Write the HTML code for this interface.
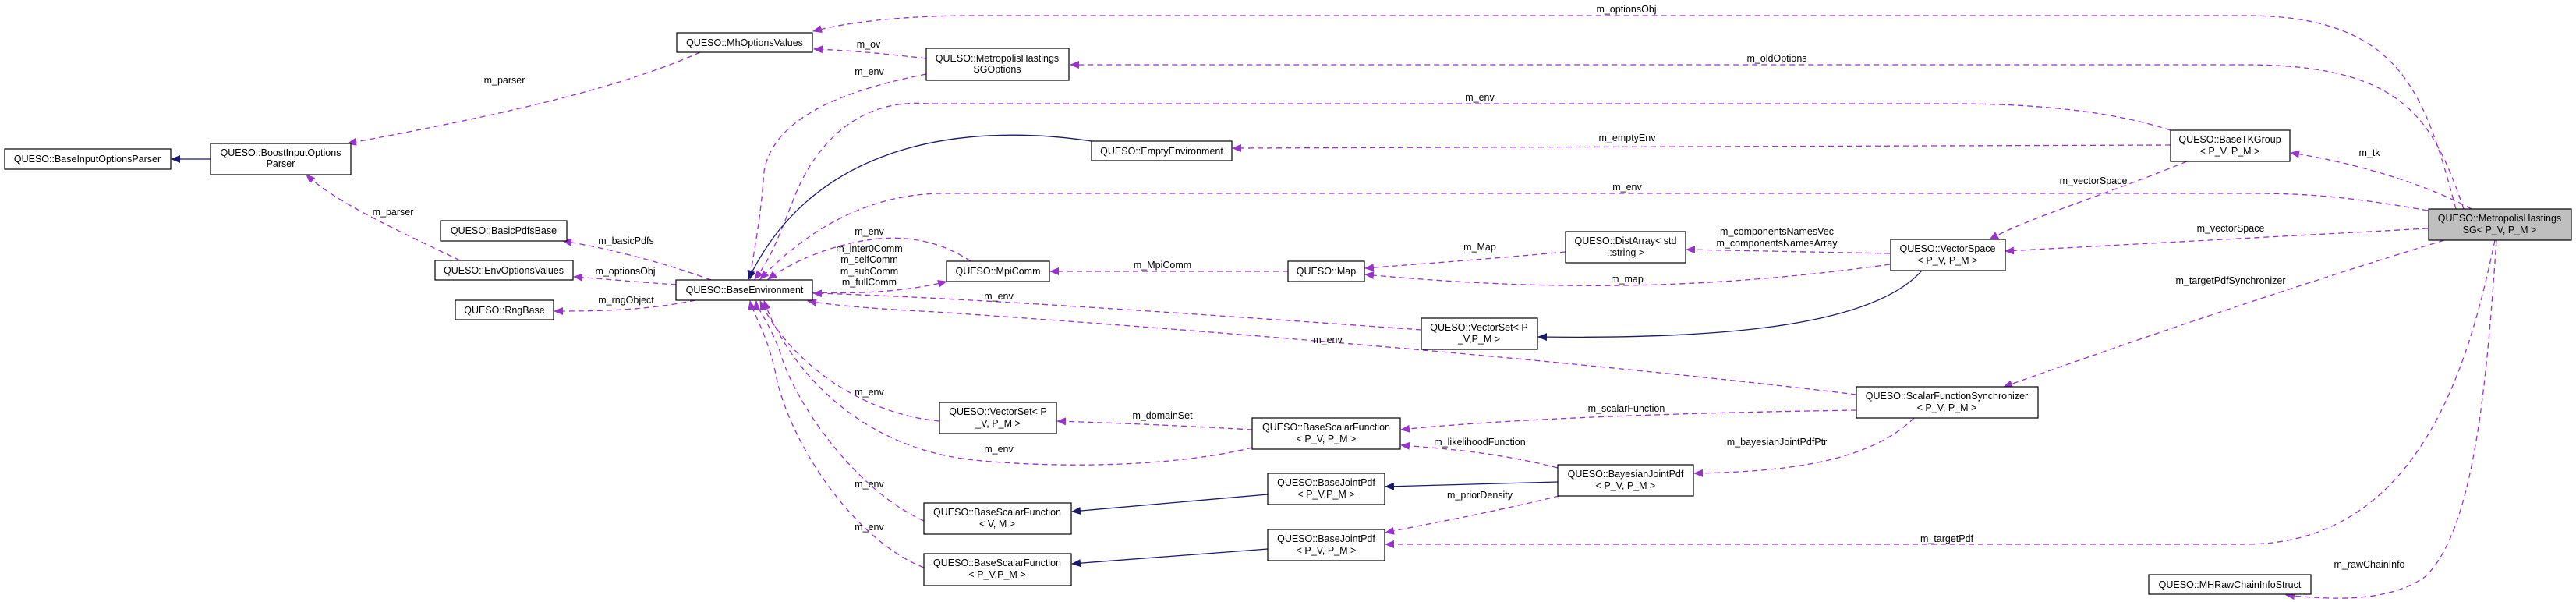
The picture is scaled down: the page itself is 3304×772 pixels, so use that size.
<!DOCTYPE html>
<html><head><meta charset="utf-8"><style>
html,body{margin:0;padding:0;background:#fff;}
svg{display:block;}
text{font-family:"Liberation Sans",sans-serif;font-size:12.5px;fill:#000;}
.n{fill:#fff;stroke:#000;stroke-width:1.2;}
.e{fill:none;stroke:#9a32cd;stroke-width:1.3;stroke-dasharray:7,5;}
.i{fill:none;stroke:#191970;stroke-width:1.3;}
</style></head><body>
<svg width="3304" height="772" viewBox="0 0 3304 772" xmlns="http://www.w3.org/2000/svg">
<defs>
<marker id="p" markerUnits="userSpaceOnUse" markerWidth="12" markerHeight="10" refX="11" refY="5" orient="auto"><path d="M0,0 L12,5 L0,10 Z" fill="#9a32cd"/></marker>
<marker id="b" markerUnits="userSpaceOnUse" markerWidth="12" markerHeight="10" refX="11" refY="5" orient="auto"><path d="M0,0 L12,5 L0,10 Z" fill="#191970"/></marker>
</defs>

<!-- edges -->
<g class="e">
<path marker-end="url(#p)" d="M3150,268 C3110,120 3080,20 2880,20 L1250,20 C1150,20 1080,30 1043,40"/>
<path marker-end="url(#p)" d="M3160,268 C3120,150 3080,83 2880,83 L1373,83"/>
<path marker-end="url(#p)" d="M1188,75 C1130,68 1080,64 1044,63"/>
<path marker-end="url(#p)" d="M1188,95 C1060,120 990,160 980,220 C975,290 965,330 962,358"/>
<path marker-end="url(#p)" d="M2784,167 C2700,140 2600,133 2500,133 L1190,133 C1090,125 1040,200 1020,250 C1000,300 990,330 968,358"/>
<path marker-end="url(#p)" d="M2784,186 L1581,190"/>
<path marker-end="url(#p)" d="M3114,270 C3000,250 2950,248 2880,248 L1210,248 C1100,248 1020,310 975,358"/>
<path marker-end="url(#p)" d="M3170,268 C3100,230 3000,205 2938,196"/>
<path marker-end="url(#p)" d="M2805,207 C2700,250 2600,280 2552,307"/>
<path marker-end="url(#p)" d="M3114,293 L2572,322"/>
<path marker-end="url(#p)" d="M2424,325 L2163,320"/>
<path marker-end="url(#p)" d="M2424,339 C2200,370 2000,375 1751,352"/>
<path marker-end="url(#p)" d="M2008,323 C1900,333 1800,340 1751,344"/>
<path marker-end="url(#p)" d="M1652,348 L1347,348"/>
<path marker-end="url(#p)" d="M1245,335 C1200,305 1150,300 1100,310 C1050,320 1010,340 985,358"/>
<path marker-end="url(#p)" d="M1042,375 C1120,378 1180,370 1214,361"/>
<path marker-end="url(#p)" d="M1823,423 C1500,400 1200,380 1043,376"/>
<path marker-end="url(#p)" d="M2381,506 C2000,460 1500,420 1200,400 C1100,395 1060,390 1036,386"/>
<path marker-end="url(#p)" d="M2381,526 C2100,530 1900,540 1797,551"/>
<path marker-end="url(#p)" d="M1606,551 C1500,545 1420,542 1356,540"/>
<path marker-end="url(#p)" d="M1205,540 C1100,530 1010,460 975,386"/>
<path marker-end="url(#p)" d="M1606,574 C1500,600 1350,600 1250,590 C1100,575 1010,470 980,386"/>
<path marker-end="url(#p)" d="M1185,668 C1100,630 1020,520 1000,450 C985,410 970,395 970,386"/>
<path marker-end="url(#p)" d="M1185,728 C1090,690 1010,560 995,480 C985,430 965,400 962,386"/>
<path marker-end="url(#p)" d="M1998,600 C1920,580 1850,575 1797,571"/>
<path marker-end="url(#p)" d="M2000,636 C1900,660 1830,672 1777,683"/>
<path marker-end="url(#p)" d="M2455,536 C2400,590 2300,605 2173,607"/>
<path marker-end="url(#p)" d="M3135,308 C2900,380 2700,450 2570,496"/>
<path marker-end="url(#p)" d="M3200,308 C3170,450 3110,698 2880,698 L1777,698"/>
<path marker-end="url(#p)" d="M3202,308 C3190,480 3175,680 3110,740 C3060,775 2980,768 2932,763"/>
<path marker-end="url(#p)" d="M898,67 C780,120 600,155 446,184"/>
<path marker-end="url(#p)" d="M590,334 C520,300 430,260 393,224"/>
<path marker-end="url(#p)" d="M912,359 C860,340 790,320 722,309"/>
<path marker-end="url(#p)" d="M868,365 C820,362 780,358 736,355"/>
<path marker-end="url(#p)" d="M892,385 C830,398 770,399 711,399"/>
</g>
<g class="i">
<path marker-end="url(#b)" d="M1400,181 C1260,160 1050,170 960,358"/>
<path marker-end="url(#b)" d="M2465,347 C2400,420 2200,435 1973,432"/>
<path marker-end="url(#b)" d="M1626,634 L1375,656"/>
<path marker-end="url(#b)" d="M1626,704 L1375,723"/>
<path marker-end="url(#b)" d="M1998,618 L1777,624"/>
<path marker-end="url(#b)" d="M270,204 L220,204"/>
</g>

<!-- nodes -->
<g>
<rect class="n" x="868" y="42" width="174" height="25"/><text x="955" y="59" text-anchor="middle">QUESO::MhOptionsValues</text>
<rect class="n" x="6" y="191" width="213" height="26"/><text x="112" y="208" text-anchor="middle">QUESO::BaseInputOptionsParser</text>
<rect class="n" x="270" y="184" width="180" height="40"/><text x="360" y="200" text-anchor="middle">QUESO::BoostInputOptions</text><text x="360" y="214" text-anchor="middle">Parser</text>
<rect class="n" x="565" y="283" width="162" height="26"/><text x="646" y="300" text-anchor="middle">QUESO::BasicPdfsBase</text>
<rect class="n" x="558" y="334" width="177" height="25"/><text x="646" y="351" text-anchor="middle">QUESO::EnvOptionsValues</text>
<rect class="n" x="867" y="359" width="175" height="26"/><text x="955" y="376" text-anchor="middle">QUESO::BaseEnvironment</text>
<rect class="n" x="584" y="385" width="126" height="25"/><text x="647" y="402" text-anchor="middle">QUESO::RngBase</text>
<rect class="n" x="1188" y="62" width="183" height="41"/><text x="1279" y="79" text-anchor="middle">QUESO::MetropolisHastings</text><text x="1279" y="93" text-anchor="middle">SGOptions</text>
<rect class="n" x="1400" y="181" width="180" height="25"/><text x="1490" y="198" text-anchor="middle">QUESO::EmptyEnvironment</text>
<rect class="n" x="1214" y="335" width="132" height="26"/><text x="1280" y="352" text-anchor="middle">QUESO::MpiComm</text>
<rect class="n" x="1652" y="335" width="98" height="26"/><text x="1701" y="352" text-anchor="middle">QUESO::Map</text>
<rect class="n" x="2008" y="297" width="154" height="40"/><text x="2085" y="313" text-anchor="middle">QUESO::DistArray&lt; std</text><text x="2085" y="328" text-anchor="middle">::string &gt;</text>
<rect class="n" x="1823" y="408" width="149" height="40"/><text x="1897" y="424" text-anchor="middle">QUESO::VectorSet&lt; P</text><text x="1897" y="439" text-anchor="middle">_V,P_M &gt;</text>
<rect class="n" x="1205" y="516" width="150" height="40"/><text x="1280" y="532" text-anchor="middle">QUESO::VectorSet&lt; P</text><text x="1280" y="547" text-anchor="middle">_V, P_M &gt;</text>
<rect class="n" x="1606" y="536" width="190" height="40"/><text x="1701" y="552" text-anchor="middle">QUESO::BaseScalarFunction</text><text x="1701" y="567" text-anchor="middle">&lt; P_V, P_M &gt;</text>
<rect class="n" x="1998" y="596" width="174" height="40"/><text x="2085" y="612" text-anchor="middle">QUESO::BayesianJointPdf</text><text x="2085" y="627" text-anchor="middle">&lt; P_V, P_M &gt;</text>
<rect class="n" x="1626" y="607" width="150" height="40"/><text x="1701" y="623" text-anchor="middle">QUESO::BaseJointPdf</text><text x="1701" y="638" text-anchor="middle">&lt; P_V,P_M &gt;</text>
<rect class="n" x="1185" y="645" width="189" height="40"/><text x="1279" y="661" text-anchor="middle">QUESO::BaseScalarFunction</text><text x="1279" y="676" text-anchor="middle">&lt; V, M &gt;</text>
<rect class="n" x="1626" y="679" width="150" height="40"/><text x="1701" y="695" text-anchor="middle">QUESO::BaseJointPdf</text><text x="1701" y="710" text-anchor="middle">&lt; P_V, P_M &gt;</text>
<rect class="n" x="1185" y="710" width="189" height="41"/><text x="1279" y="726" text-anchor="middle">QUESO::BaseScalarFunction</text><text x="1279" y="741" text-anchor="middle">&lt; P_V,P_M &gt;</text>
<rect class="n" x="2784" y="167" width="153" height="40"/><text x="2860" y="183" text-anchor="middle">QUESO::BaseTKGroup</text><text x="2860" y="198" text-anchor="middle">&lt; P_V, P_M &gt;</text>
<rect class="n" x="2425" y="307" width="147" height="40"/><text x="2498" y="323" text-anchor="middle">QUESO::VectorSpace</text><text x="2498" y="338" text-anchor="middle">&lt; P_V, P_M &gt;</text>
<rect class="n" x="2381" y="496" width="233" height="40"/><text x="2497" y="512" text-anchor="middle">QUESO::ScalarFunctionSynchronizer</text><text x="2497" y="527" text-anchor="middle">&lt; P_V, P_M &gt;</text>
<rect class="n" x="2756" y="737" width="208" height="25"/><text x="2860" y="754" text-anchor="middle">QUESO::MHRawChainInfoStruct</text>
<rect class="n" x="3115" y="268" width="183" height="40" style="fill:#bfbfbf"/><text x="3206" y="284" text-anchor="middle">QUESO::MetropolisHastings</text><text x="3206" y="299" text-anchor="middle">SG&lt; P_V, P_M &gt;</text>
</g>

<!-- edge labels -->
<g text-anchor="middle">
<text x="2086" y="16">m_optionsObj</text>
<text x="2279" y="79">m_oldOptions</text>
<text x="1114" y="61">m_ov</text>
<text x="1115" y="96">m_env</text>
<text x="1898" y="129">m_env</text>
<text x="2087" y="181">m_emptyEnv</text>
<text x="2087" y="244">m_env</text>
<text x="3039" y="200">m_tk</text>
<text x="2685" y="236">m_vectorSpace</text>
<text x="2861" y="297">m_vectorSpace</text>
<text x="2279" y="301">m_componentsNamesVec</text>
<text x="2279" y="316">m_componentsNamesArray</text>
<text x="1898" y="321">m_Map</text>
<text x="2087" y="362">m_map</text>
<text x="1491" y="344">m_MpiComm</text>
<text x="1115" y="301">m_env</text>
<text x="1115" y="323">m_inter0Comm</text>
<text x="1115" y="337">m_selfComm</text>
<text x="1115" y="352">m_subComm</text>
<text x="1115" y="366">m_fullComm</text>
<text x="1281" y="384">m_env</text>
<text x="1703" y="440">m_env</text>
<text x="2861" y="364">m_targetPdfSynchronizer</text>
<text x="2086" y="528">m_scalarFunction</text>
<text x="1491" y="537">m_domainSet</text>
<text x="1281" y="580">m_env</text>
<text x="1115" y="507">m_env</text>
<text x="1898" y="571">m_likelihoodFunction</text>
<text x="2279" y="571">m_bayesianJointPdfPtr</text>
<text x="1898" y="639">m_priorDensity</text>
<text x="1115" y="625">m_env</text>
<text x="1115" y="680">m_env</text>
<text x="2497" y="695">m_targetPdf</text>
<text x="3039" y="728">m_rawChainInfo</text>
<text x="647" y="107">m_parser</text>
<text x="504" y="276">m_parser</text>
<text x="803" y="313">m_basicPdfs</text>
<text x="802" y="352">m_optionsObj</text>
<text x="803" y="389">m_rngObject</text>
</g>
</svg>
</body></html>
